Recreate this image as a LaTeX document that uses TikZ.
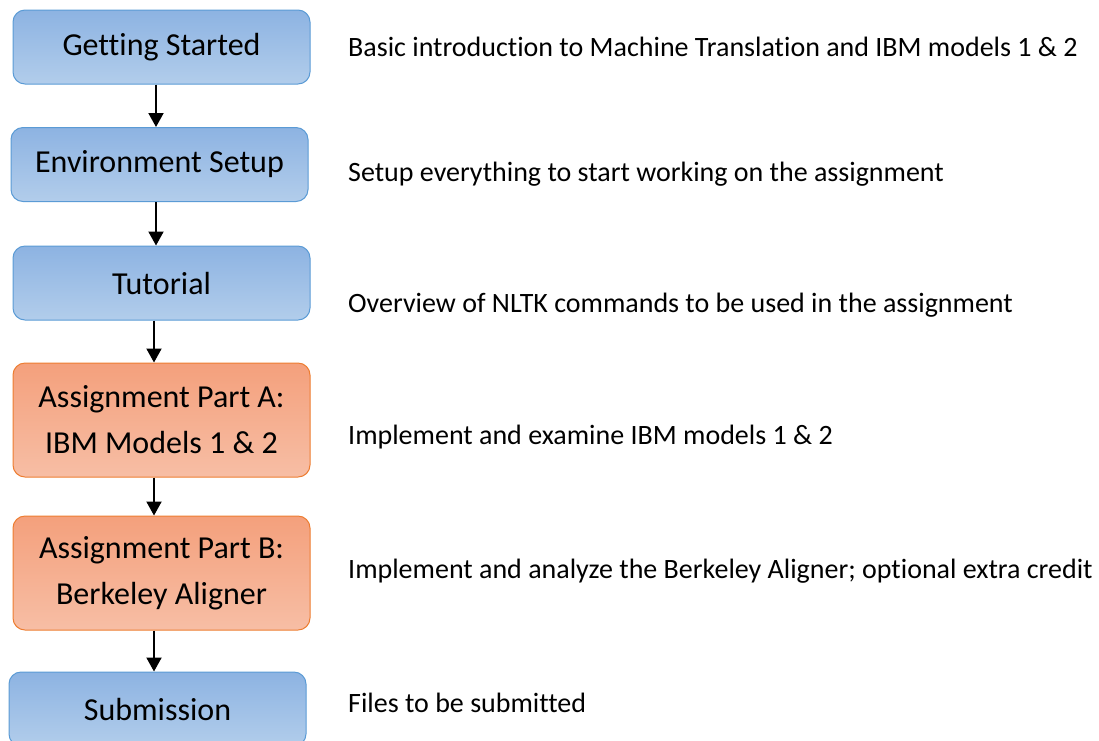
\documentclass[tikz,border=0pt]{standalone}
\usepackage{fontspec}
\setmainfont{Carlito}[Ligatures={NoCommon}]
\usetikzlibrary{arrows.meta}

\definecolor{bluetop}{HTML}{8DB3E2}
\definecolor{bluebot}{HTML}{B2CDEB}
\definecolor{blueline}{HTML}{5B9BD5}
\definecolor{orangetop}{HTML}{F4A07C}
\definecolor{orangebot}{HTML}{F7BEA5}
\definecolor{orangeline}{HTML}{ED7D31}

\tikzset{
  bluebox/.style={draw=blueline, line width=1pt, rounded corners=12pt, top color=bluetop, bottom color=bluebot,
    minimum width=297pt, minimum height=74pt, align=center, font=\fontsize{32}{46}\selectfont},
  orangebox/.style={bluebox, draw=orangeline, top color=orangetop, bottom color=orangebot, minimum height=114pt},
  note/.style={anchor=west, inner sep=0pt, font=\fontsize{28}{32}\selectfont},
  flow/.style={-{Triangle[length=14pt,width=15pt]}, line width=2pt}
}

\begin{document}
\begin{tikzpicture}[x=1pt,y=-1pt]
\useasboundingbox (0,0) rectangle (1099,740);
\node[bluebox] (start) at (161.5,47) {Getting Started}; \node[note] (startnote) at (348,47) {Basic introduction to Machine Translation and IBM models 1 \& 2};
\node[bluebox] (setup) at (159.5,164.5) {Environment Setup}; \node[note] (setupnote) at (348,174) {Setup everything to start working on the assignment};
\node[bluebox] (tut) at (161.5,283) {Tutorial}; \node[note] (tutnote) at (348,305) {Overview of NLTK commands to be used in the assignment};
\node[orangebox] (parta) at (161.5,420) {Assignment Part A:\\IBM Models 1 \& 2}; \node[note] (partanote) at (348,437) {Implement and examine IBM models 1 \& 2};
\node[orangebox] (partb) at (161.5,573) {Assignment Part B:\\Berkeley Aligner}; \node[note] (partbnote) at (348,571) {Implement and analyze the Berkeley Aligner; optional extra credit};
\node[bluebox] (sub) at (157.5,709) {Submission}; \node[note] (subnote) at (348,703) {Files to be submitted};

\draw[flow] (start.south -| 156,0) -- (setup.north -| 156,0);
\draw[flow] (setup.south -| 156,0) -- (tut.north -| 156,0);
\draw[flow] (tut.south -| 154,0) -- (parta.north -| 154,0);
\draw[flow] (parta.south -| 154,0) -- (partb.north -| 154,0);
\draw[flow] (partb.south -| 154,0) -- (sub.north -| 154,0);

\end{tikzpicture}
\end{document}
